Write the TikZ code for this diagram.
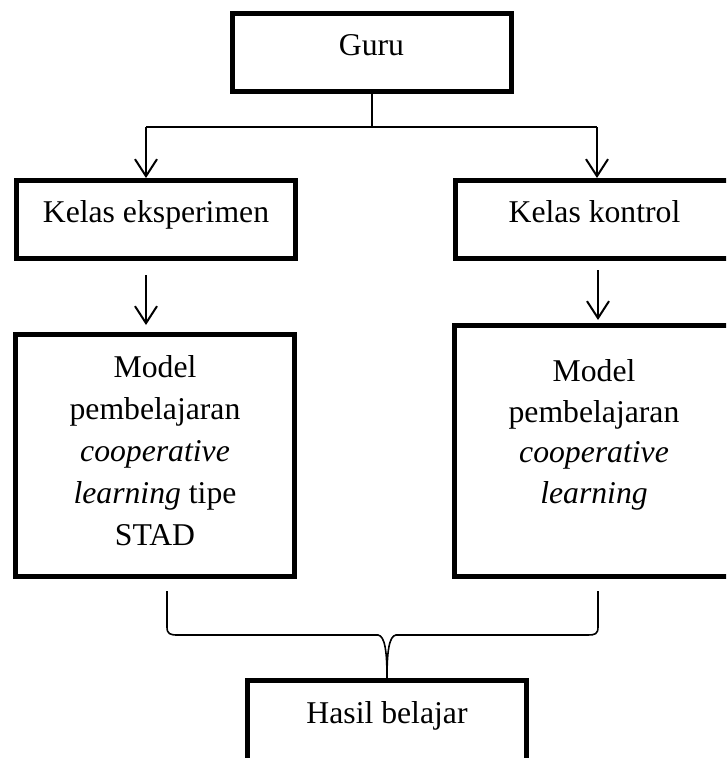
\documentclass[tikz,border=0pt]{standalone}
\usepackage{fontspec}
\setmainfont{Liberation Serif}
\usetikzlibrary{arrows.meta,calc}

\tikzset{
  box/.style={draw, line width=5pt, minimum width=279pt, inner sep=0pt, align=center,
    font=\fontsize{31.7pt}{42pt}\selectfont, text height=22pt, text depth=17pt},
  link/.style={line width=2pt},
  arrow/.style={link, -{Straight Barb[length=17pt,width=22pt]}},
  brace/.style={line width=1.6pt}
}

\begin{document}
\begin{tikzpicture}[x=1pt,y=-1pt]
        \useasboundingbox (0,0) rectangle (726,758);
        \clip (0,0) rectangle (726,758);

        \node[box, minimum height=78pt] (guru) at (371.5,52.5) {Guru};
        \node[box, minimum height=78pt] (eks) at (156,219.5) {Kelas eksperimen};
        \node[box, minimum height=78pt] (kon) at (594.5,219.5) {Kelas kontrol};
        \node[box, minimum height=242pt, text height=179pt, text depth=0pt] (modA) at (155,455.5)
          {Model\\pembelajaran\\\textit{cooperative}\\\textit{learning} tipe\\STAD};
        \node[box, minimum height=251pt, text height=112pt, text depth=8pt,
          font=\fontsize{31.7pt}{40.5pt}\selectfont] (modB) at (594,451)
          {Model\\pembelajaran\\\textit{cooperative}\\\textit{learning}};
        \node[box, minimum height=99pt, text depth=36pt] (hasil) at (387,730) {Hasil belajar};

        \coordinate (lx) at (146,127);
        \coordinate (rx) at (597,127);
        \draw[link] (guru.south) -- (guru.south |- lx);
        \draw[link] (lx) -- (rx);
        \draw[arrow] (lx) -- (lx |- eks.north);
        \draw[arrow] (rx) -- (rx |- kon.north);
        \draw[arrow] ($(eks.south -| lx)+(0,14)$) -- ($(modA.north -| lx)+(0,-7)$);
        \draw[arrow] ($(kon.south -| rx)+(1,9)$) -- ($(modB.north -| rx)+(1,-3)$);

        % brace from the two models to the result
        \coordinate (bl) at ($(modA.south -| 167,0)+(0,12)$);
        \coordinate (br) at ($(modB.south -| 598,0)+(0,12)$);
        \draw[brace] (bl) -- ++(0,36) .. controls ++(0,7) and (170,635) .. (178,635)
          -- (378,635) .. controls (385,636) and (387,652) .. (hasil.north)
          .. controls (387,652) and (389,636) .. (396,635)
          -- (588,635) .. controls (595,635) and (598,634) .. ($(br)+(0,36)$) -- (br);
\end{tikzpicture}
\end{document}
